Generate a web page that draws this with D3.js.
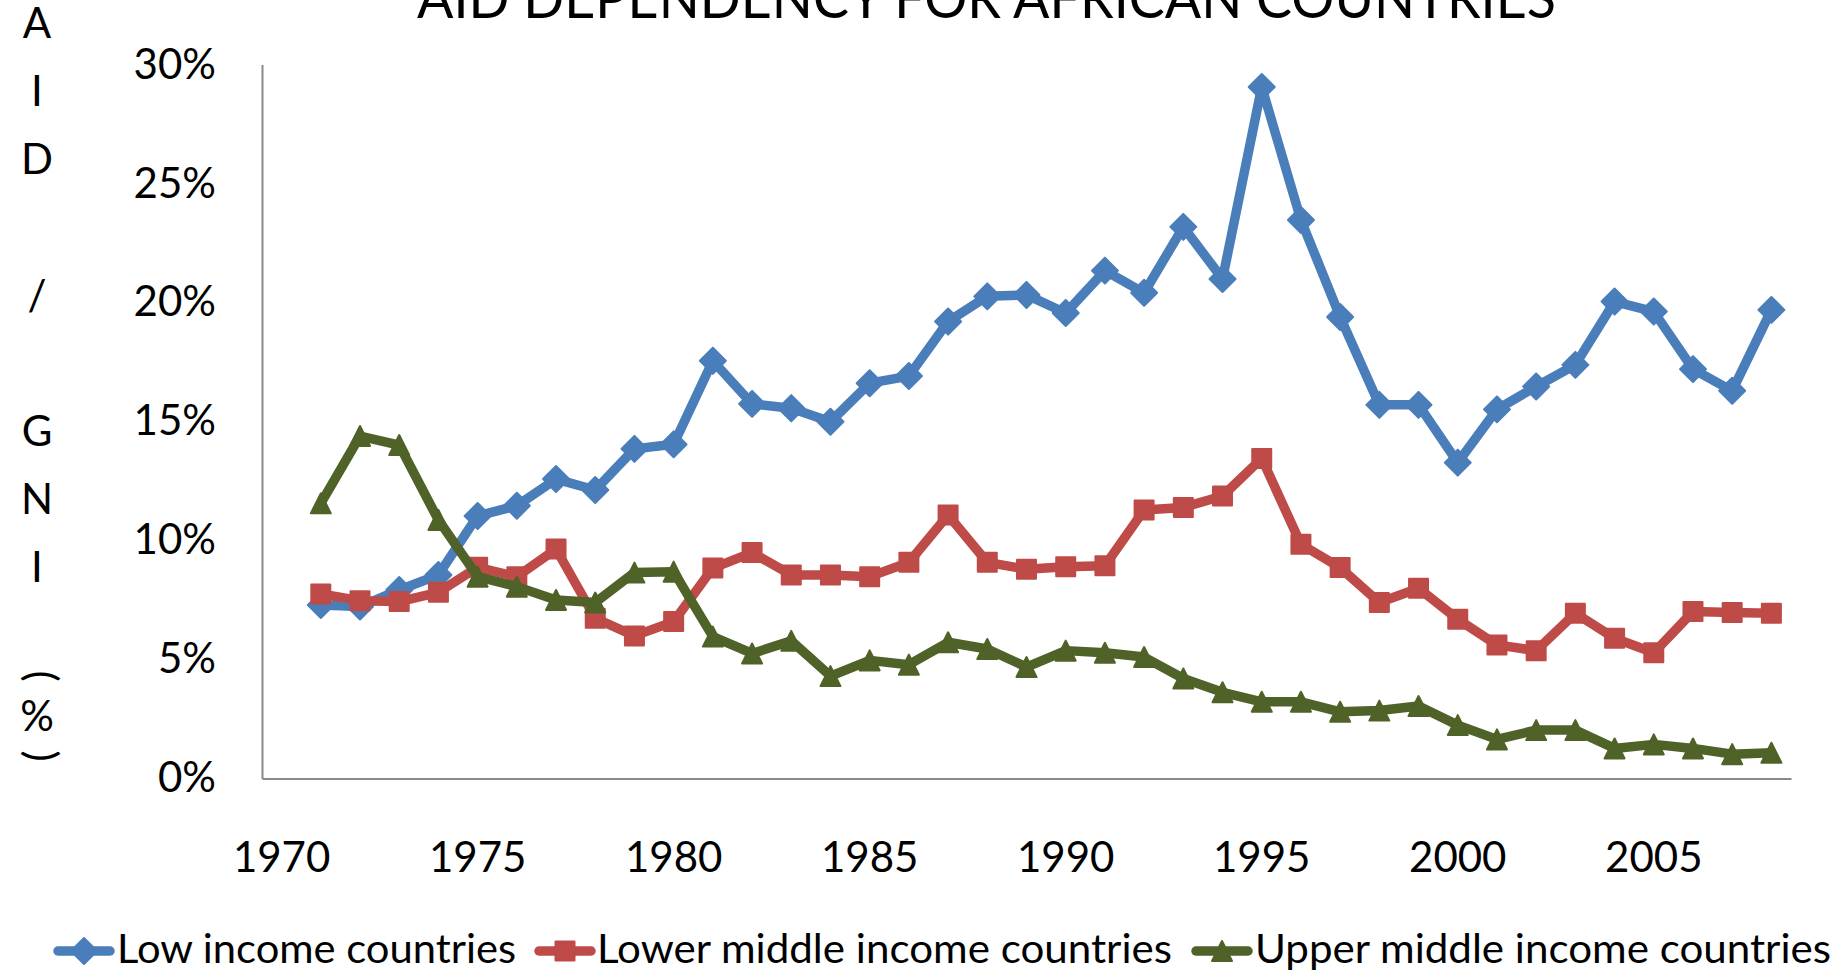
<!DOCTYPE html>
<html>
<head>
<meta charset="utf-8">
<script src="https://cdn.jsdelivr.net/npm/d3@7"></script>
<style>
  body { margin: 0; background: #fff; }
  text { font-family: Lato, "Open Sans", sans-serif; fill: #000; }
</style>
</head>
<body>
<script>
// data (aid as % of GNI)
var years = d3.range(1970, 2009);
var lowIncome = [null, 7.29, 7.22, 7.92, 8.55, 11.03, 11.46, 12.58, 12.12, 13.85, 14.04,
  17.55, 15.74, 15.56, 14.99, 16.61, 16.91, 19.2, 20.26, 20.32, 19.56,
  21.34, 20.41, 23.18, 20.99, 29.06, 23.47, 19.39, 15.7, 15.7, 13.27,
  15.51, 16.47, 17.38, 20.04, 19.62, 17.2, 16.29, 19.69];
var lowerMiddle = [null, 7.75, 7.47, 7.43, 7.82, 8.87, 8.48, 9.64, 6.73, 5.99, 6.59,
  8.84, 9.49, 8.55, 8.55, 8.48, 9.08, 11.07, 9.08, 8.79, 8.9,
  8.94, 11.28, 11.39, 11.87, 13.45, 9.84, 8.86, 7.39, 7.99, 6.69,
  5.61, 5.37, 6.94, 5.89, 5.28, 7.01, 6.97, 6.94];
var upperMiddle = [null, 11.56, 14.39, 14.01, 10.86, 8.48, 8.06, 7.5, 7.39, 8.65, 8.69,
  5.96, 5.25, 5.78, 4.3, 4.96, 4.78, 5.72, 5.44, 4.68, 5.37,
  5.28, 5.1, 4.2, 3.62, 3.22, 3.22, 2.8, 2.85, 3.04, 2.24,
  1.64, 2.03, 2.03, 1.26, 1.43, 1.26, 1.02, 1.08];
var seriesNames = ['Low income countries', 'Lower middle income countries', 'Upper middle income countries'];
var yTicks = [0, 5, 10, 15, 20, 25, 30];
var xTicks = [1970, 1975, 1980, 1985, 1990, 1995, 2000, 2005];
var titleText = 'AID DEPENDENCY FOR AFRICAN COUNTRIES';
var yTitle = 'AID / GNI (%)';

var W = 1841, H = 973;
var svg = d3.select('body').append('svg').attr('width', W).attr('height', H);

var x = d3.scaleBand().domain(years).range([262, 1791]).padding(0);
var y = d3.scaleLinear().domain([0, 30]).range([778.4, 64.6]);
var cx = function(yr) { return x(yr) + x.bandwidth() / 2; };

// custom marker shapes
var diamond = { draw: function(c, s) { var r = Math.sqrt(s) / 2;
  c.moveTo(0, -r); c.lineTo(r, 0); c.lineTo(0, r); c.lineTo(-r, 0); c.closePath(); } };
var square = { draw: function(c, s) { var r = Math.sqrt(s) / 2;
  c.rect(-r, -r, 2 * r, 2 * r); } };
var triangle = { draw: function(c, s) { var r = Math.sqrt(s) / 2;
  c.moveTo(0, -r); c.lineTo(r, r); c.lineTo(-r, r); c.closePath(); } };

var series = [
  { name: seriesNames[0], values: lowIncome, color: '#4A7EBB', shape: diamond, size: 26 * 26 },
  { name: seriesNames[1], values: lowerMiddle, color: '#BE4B48', shape: square, size: 19 * 19 },
  { name: seriesNames[2], values: upperMiddle, color: '#4F6228', shape: triangle, size: 20 * 20 }
];

// axes
var yAxis = svg.append('g').attr('transform', 'translate(262,0)')
  .call(d3.axisLeft(y).tickValues(yTicks).tickFormat(function(d) { return d + '%'; })
    .tickSize(0).tickPadding(46));
var xAxis = svg.append('g').attr('transform', 'translate(0,778.4)')
  .call(d3.axisBottom(x).tickValues(xTicks).tickSize(0).tickPadding(64));
svg.selectAll('.domain').attr('stroke', '#898989').attr('stroke-width', 2);
svg.selectAll('.tick text').attr('font-size', 42).attr('font-family', 'Lato');

// lines
var line = d3.line()
  .defined(function(d) { return d.v != null; })
  .x(function(d) { return cx(d.year); })
  .y(function(d) { return y(d.v); });

series.forEach(function(s) {
  var pts = years.map(function(yr, i) { return { year: yr, v: s.values[i] }; });
  var g = svg.append('g');
  g.append('path').datum(pts).attr('d', line)
    .attr('fill', 'none').attr('stroke', s.color).attr('stroke-width', 9.5)
    .attr('stroke-linejoin', 'round').attr('stroke-linecap', 'round');
  g.selectAll('path.mk').data(pts.filter(function(d) { return d.v != null; }))
    .enter().append('path').attr('class', 'mk')
    .attr('d', d3.symbol().type(s.shape).size(s.size))
    .attr('transform', function(d) { return 'translate(' + cx(d.year) + ',' + y(d.v) + ')'; })
    .attr('fill', s.color).attr('stroke', s.color).attr('stroke-width', 2)
    .attr('stroke-linejoin', 'round');
});

// title (cut off at top like the original)
svg.append('text').attr('x', 986.5).attr('y', 18).attr('text-anchor', 'middle')
  .attr('font-size', 56).attr('textLength', 1139).attr('lengthAdjust', 'spacingAndGlyphs')
  .text(titleText);

// stacked y title
var ly = 23;
yTitle.split('').forEach(function(ch, i) {
  if (ch !== ' ') {
    var t = svg.append('text').attr('text-anchor', 'middle').attr('font-size', 42).text(ch);
    if (ch === '(' || ch === ')') {
      t.attr('transform', 'translate(37,' + ly + ') rotate(90)').attr('dy', '0.25em');
    } else {
      t.attr('x', 37).attr('y', ly).attr('dy', '0.36em');
    }
  }
  var big = i < 10;
  ly += big ? 68 : 0;
  if (i === 9) ly += -27;
  if (i >= 10) ly += 40;
});

// legend
var legendPos = [{ x: 53, tx: 117, w: 399 }, { x: 534, tx: 597, w: 575 }, { x: 1191, tx: 1255, w: 576 }];
series.forEach(function(s, i) {
  var p = legendPos[i];
  var g = svg.append('g');
  g.append('line').attr('x1', p.x + 5).attr('x2', p.x + 57).attr('y1', 951).attr('y2', 951)
    .attr('stroke', s.color).attr('stroke-width', 9.5).attr('stroke-linecap', 'round');
  g.append('path').attr('d', d3.symbol().type(s.shape).size(s.size))
    .attr('transform', 'translate(' + (p.x + 31) + ',951)')
    .attr('fill', s.color).attr('stroke', s.color).attr('stroke-width', 2)
    .attr('stroke-linejoin', 'round');
  g.append('text').attr('x', p.tx).attr('y', 963).attr('font-size', 40)
    .attr('textLength', p.w).attr('lengthAdjust', 'spacingAndGlyphs').text(s.name);
});
</script>
</body>
</html>
